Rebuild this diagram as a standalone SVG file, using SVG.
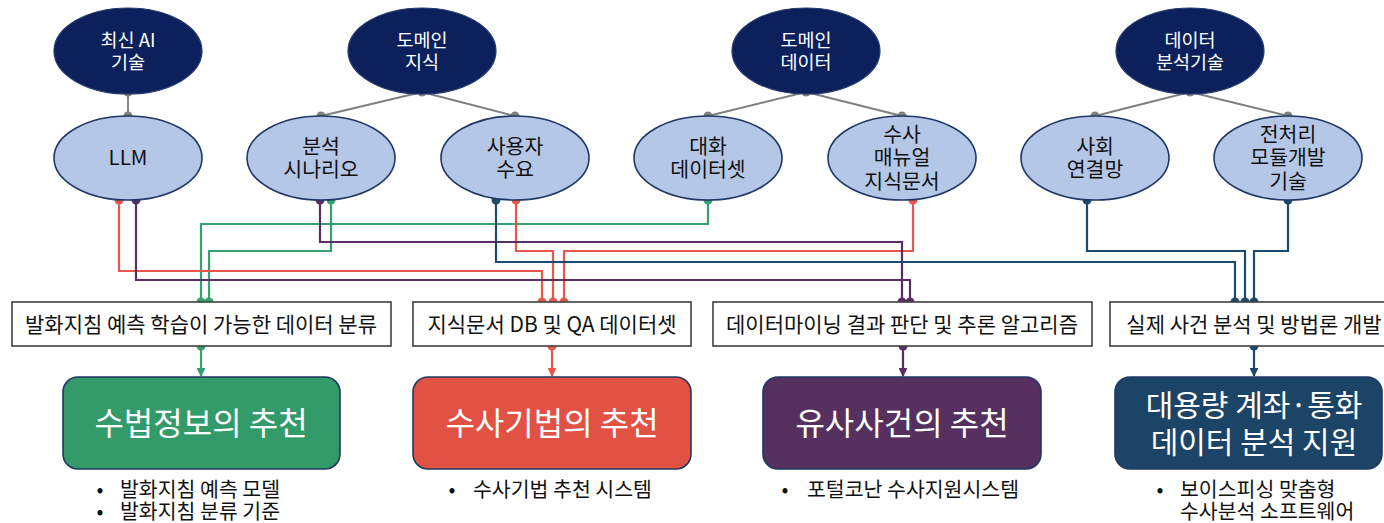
<svg xmlns="http://www.w3.org/2000/svg" width="1384" height="523" viewBox="0 0 1384 523">
<defs>
<style>
text{font-family:"Noto Sans CJK KR","Noto Sans",sans-serif;text-anchor:middle}
.top ellipse{fill:#0c215c;stroke:#22396b;stroke-width:1.2}
.top text{fill:#fff;font-size:18.5px}
.sub ellipse{fill:#b4c7e7;stroke:#1f3864;stroke-width:1.6}
.sub text{fill:#111;font-size:20.5px}
.gl{stroke:#7f7f7f;stroke-width:2;fill:none}
.gd{fill:#7f7f7f}
.mid rect{fill:#fff;stroke:#404040;stroke-width:1.6}
.mid text{fill:#111;font-size:21px}
.res rect{stroke:#1f3864;stroke-width:1.6}
.res text{fill:#fff}
.note text{fill:#111;font-size:20.5px;text-anchor:start}
.note .b{text-anchor:middle}
.c{fill:none;stroke-width:2.2}
.g{stroke:#35a070}.gf{fill:#35a070}
.r{stroke:#e8574a}.rf{fill:#e8574a}
.p{stroke:#5b2e63}.pf{fill:#5b2e63}
.n{stroke:#1b4a6e}.nf{fill:#1b4a6e}
</style>
<marker id="ag" viewBox="0 0 10 10" refX="9" refY="5" markerWidth="4" markerHeight="4" orient="auto"><path d="M0,0L10,5L0,10z" fill="#35a070"/></marker>
<marker id="ar" viewBox="0 0 10 10" refX="9" refY="5" markerWidth="4" markerHeight="4" orient="auto"><path d="M0,0L10,5L0,10z" fill="#e8574a"/></marker>
<marker id="ap" viewBox="0 0 10 10" refX="9" refY="5" markerWidth="4" markerHeight="4" orient="auto"><path d="M0,0L10,5L0,10z" fill="#5b2e63"/></marker>
<marker id="an" viewBox="0 0 10 10" refX="9" refY="5" markerWidth="4" markerHeight="4" orient="auto"><path d="M0,0L10,5L0,10z" fill="#1b4a6e"/></marker>
</defs>
<rect width="1384" height="523" fill="#fff"/>

<g id="connectors">
<path class="gl" d="M128,92V116 M422,92L321,116 M422,92L515,116 M806,92L708,116 M806,92L902,116 M1190,92L1095,116 M1190,92L1288,116"/>
<g class="gd">
<circle cx="128" cy="92" r="4.5"/><circle cx="128" cy="116" r="4.5"/>
<circle cx="422" cy="92" r="4.5"/><circle cx="321" cy="116" r="4.5"/><circle cx="515" cy="116" r="4.5"/>
<circle cx="806" cy="92" r="4.5"/><circle cx="708" cy="116" r="4.5"/><circle cx="902" cy="116" r="4.5"/>
<circle cx="1190" cy="92" r="4.5"/><circle cx="1095" cy="116" r="4.5"/><circle cx="1288" cy="116" r="4.5"/>
</g>
<path class="c g" d="M708,200V224H201V302"/>
<path class="c g" d="M331,200V251H209V302"/>
<path class="c r" d="M119,200V271H542V302"/>
<path class="c r" d="M516,200V251H553V302"/>
<path class="c r" d="M913,200V251H564V302"/>
<path class="c p" d="M320,200V242H902V302"/>
<path class="c p" d="M136,200V280H910V302"/>
<path class="c n" d="M496,200V262H1235V302"/>
<path class="c n" d="M1087,200V251H1245V302"/>
<path class="c n" d="M1288,200V251H1254V302"/>
<path class="c g" d="M201,346V376" marker-end="url(#ag)"/>
<path class="c r" d="M552,346V376" marker-end="url(#ar)"/>
<path class="c p" d="M903,346V376" marker-end="url(#ap)"/>
<path class="c n" d="M1254,346V376" marker-end="url(#an)"/>
<g class="gf"><circle cx="331" cy="200" r="4.5"/><circle cx="708" cy="200" r="4.5"/><circle cx="201" cy="302" r="4.5"/><circle cx="209" cy="302" r="4.5"/><circle cx="201" cy="346" r="4.5"/></g>
<g class="rf"><circle cx="119" cy="200" r="4.5"/><circle cx="516" cy="200" r="4.5"/><circle cx="913" cy="200" r="4.5"/><circle cx="542" cy="302" r="4.5"/><circle cx="553" cy="302" r="4.5"/><circle cx="564" cy="302" r="4.5"/><circle cx="552" cy="346" r="4.5"/></g>
<g class="pf"><circle cx="136" cy="200" r="4.5"/><circle cx="320" cy="200" r="4.5"/><circle cx="902" cy="302" r="4.5"/><circle cx="910" cy="302" r="4.5"/><circle cx="903" cy="346" r="4.5"/></g>
<g class="nf"><circle cx="496" cy="200" r="4.5"/><circle cx="1087" cy="200" r="4.5"/><circle cx="1288" cy="200" r="4.5"/><circle cx="1235" cy="302" r="4.5"/><circle cx="1245" cy="302" r="4.5"/><circle cx="1254" cy="302" r="4.5"/><circle cx="1254" cy="346" r="4.5"/></g>
</g>

<g id="t1" class="top"><ellipse cx="128" cy="51" rx="74" ry="43"/><text x="128" y="46.7">최신 AI</text><text x="128" y="68.7">기술</text></g>
<g id="t2" class="top"><ellipse cx="422" cy="51" rx="74" ry="43"/><text x="422" y="46.7">도메인</text><text x="422" y="68.7">지식</text></g>
<g id="t3" class="top"><ellipse cx="806" cy="51" rx="74" ry="43"/><text x="806" y="46.7">도메인</text><text x="806" y="68.7">데이터</text></g>
<g id="t4" class="top"><ellipse cx="1190" cy="51" rx="74" ry="43"/><text x="1190" y="46.7">데이터</text><text x="1190" y="68.7">분석기술</text></g>

<g id="s1" class="sub"><ellipse cx="128" cy="158" rx="74" ry="42"/><text x="128" y="165.4">LLM</text></g>
<g id="s2" class="sub"><ellipse cx="321" cy="158" rx="74" ry="42"/><text x="321" y="154">분석</text><text x="321" y="177">시나리오</text></g>
<g id="s3" class="sub"><ellipse cx="515" cy="158" rx="74" ry="42"/><text x="515" y="154">사용자</text><text x="515" y="177">수요</text></g>
<g id="s4" class="sub"><ellipse cx="708" cy="158" rx="74" ry="42"/><text x="708" y="154">대화</text><text x="708" y="177">데이터셋</text></g>
<g id="s5" class="sub"><ellipse cx="902" cy="158" rx="74" ry="42"/><text x="902" y="142">수사</text><text x="902" y="165.4">매뉴얼</text><text x="902" y="188.6">지식문서</text></g>
<g id="s6" class="sub"><ellipse cx="1095" cy="158" rx="74" ry="42"/><text x="1095" y="154">사회</text><text x="1095" y="177">연결망</text></g>
<g id="s7" class="sub"><ellipse cx="1288" cy="158" rx="74" ry="42"/><text x="1288" y="142">전처리</text><text x="1288" y="165.4">모듈개발</text><text x="1288" y="188.6">기술</text></g>

<g id="m1" class="mid"><rect x="12" y="302" width="379" height="44"/><text x="201" y="331.5">발화지침 예측 학습이 가능한 데이터 분류</text></g>
<g id="m2" class="mid"><rect x="413" y="302" width="278" height="44"/><text x="552" y="331.5">지식문서 DB 및 QA 데이터셋</text></g>
<g id="m3" class="mid"><rect x="713" y="302" width="379" height="44"/><text x="902" y="331.5">데이터마이닝 결과 판단 및 추론 알고리즘</text></g>
<g id="m4" class="mid"><rect x="1110" y="302" width="290" height="44"/><text x="1254" y="331.5">실제 사건 분석 및 방법론 개발</text></g>

<g id="r1" class="res"><rect x="63" y="377" width="277" height="92" rx="15" fill="#339a6a"/><text x="201" y="434.5" font-size="32">수법정보의 추천</text></g>
<g id="r2" class="res"><rect x="413" y="377" width="278" height="92" rx="15" fill="#e15245"/><text x="552" y="434.5" font-size="32">수사기법의 추천</text></g>
<g id="r3" class="res"><rect x="763" y="377" width="278" height="92" rx="15" fill="#56305f"/><text x="902" y="434.5" font-size="32">유사사건의 추천</text></g>
<g id="r4" class="res"><rect x="1115" y="377" width="267" height="92" rx="15" fill="#1c4466"/><text x="1254" y="416" font-size="30">대용량 계좌·통화</text><text x="1254" y="453" font-size="30">데이터 분석 지원</text></g>

<g id="n1" class="note"><text class="b" x="100" y="497">•</text><text x="120" y="497">발화지침 예측 모델</text><text class="b" x="100" y="519">•</text><text x="120" y="519">발화지침 분류 기준</text></g>
<g id="n2" class="note"><text class="b" x="452" y="497">•</text><text x="473" y="497">수사기법 추천 시스템</text></g>
<g id="n3" class="note"><text class="b" x="785" y="497">•</text><text x="807" y="497">포털코난 수사지원시스템</text></g>
<g id="n4" class="note"><text class="b" x="1160" y="497">•</text><text x="1180" y="497">보이스피싱 맞춤형</text><text x="1180" y="519">수사분석 소프트웨어</text></g>
</svg>
